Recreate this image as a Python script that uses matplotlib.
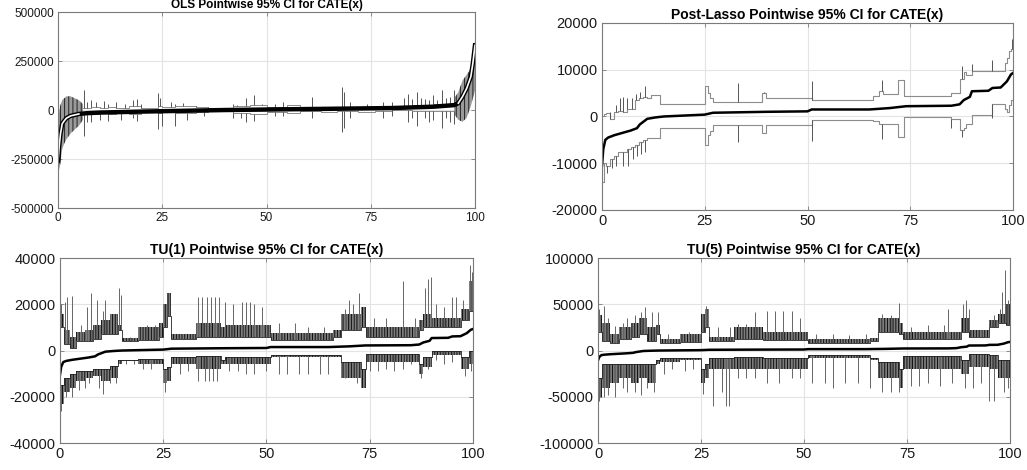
import numpy as np
import matplotlib
matplotlib.use("Agg")
import matplotlib.pyplot as plt

plt.rcParams['font.family'] = ['Liberation Sans', 'DejaVu Sans']
plt.rcParams['hatch.linewidth'] = 0.7

# ---------------- OLS panel ----------------
ols_c_x = [0, 0.3, 0.6, 1, 1.5, 2, 3, 5, 7, 10, 20, 40, 60, 80, 90, 95, 96, 97, 98, 99, 99.5, 100]
ols_c_y = [-260000, -180000, -120000, -70000, -55000, -42000, -30000, -20000, -16000, -13000,
           -8000, 0, 5000, 10000, 17000, 25000, 35000, 68000, 110000, 170000, 240000, 330000]
ols_lb_x = [0, 0.5, 1, 1.5, 2, 3, 4, 5, 6]
ols_lb_hi = [-50000, 20000, 50000, 60000, 70000, 70000, 60000, 50000, 30000]
ols_lb_lo = [-330000, -280000, -200000, -170000, -150000, -120000, -100000, -80000, -50000]
ols_rb_x = [95, 96, 97, 98, 99, 99.5, 100]
ols_rb_hi = [60000, 90000, 150000, 180000, 210000, 300000, 350000]
ols_rb_lo = [-20000, -50000, -60000, -40000, 20000, 60000, 100000]
ols_mid_x = [6, 8, 10, 12, 14, 17, 20, 24, 25, 28, 33, 36, 42, 46, 50, 55, 58, 63, 67, 72, 76, 80, 85, 90, 95]
ols_mid_up = [10000, 15000, 10000, 15000, 12000, 18000, 10000, 20000, 15000, 20000, 15000, 8000, 20000,
              25000, 15000, 25000, 15000, 10000, 15000, 10000, 15000, 20000, 25000, 30000, 30000]
ols_mid_lo = [-15000, -20000, -15000, -18000, -12000, -20000, -10000, -15000, -12000, -15000, -10000, -5000,
              -15000, -20000, -10000, -15000, -5000, -8000, -5000, -10000, -3000, 0, -5000, -5000, -5000]
ols_sp_up_x = [6.3, 7, 8, 9, 11, 12, 14, 16, 18, 19, 20, 24, 24.5, 27, 28, 30, 33, 36, 42, 43, 45, 47, 49,
               52, 54, 61, 68, 68.5, 70, 74, 78, 80, 83, 84, 85, 86, 87, 88, 89, 90, 91, 92, 93, 94, 95]
ols_sp_up_y = [100000, 40000, 50000, 40000, 45000, 30000, 40000, 30000, 50000, 55000, 30000, 85000, 60000,
               40000, 30000, 35000, 20000, 15000, 30000, 25000, 60000, 75000, 30000, 30000, 40000, 65000,
               120000, 90000, 40000, 30000, 40000, 40000, 60000, 80000, 55000, 90000, 60000, 55000, 50000,
               75000, 50000, 100000, 60000, 65000, 100000]
ols_sp_lo_x = [6.3, 7, 8, 10, 12, 15, 18, 19, 24, 25, 28, 31, 35, 42, 44, 45, 47, 52, 54, 61, 68, 68.5, 70,
               78, 80, 84, 85, 86, 88, 89, 90, 92, 93, 94, 95]
ols_sp_lo_y = [-130000, -60000, -60000, -50000, -55000, -50000, -40000, -55000, -95000, -80000, -80000,
               -50000, -30000, -40000, -40000, -60000, -55000, -30000, -30000, -40000, -110000, -90000,
               -40000, -40000, -30000, -60000, -40000, -80000, -40000, -60000, -50000, -90000, -40000,
               -60000, -70000]

# ---------------- Post-Lasso panel (center shared by TU panels) ----------------
pc_x = [0, 0.3, 0.8, 1.5, 3, 5, 7, 8.5, 9.2, 11, 13, 15, 20, 25, 27, 40, 50, 51, 65, 70, 74, 85, 87,
        88, 89.5, 90, 94, 95, 97, 98.5, 99.5, 100]
pc_y = [-10500, -7000, -5000, -4500, -4000, -3500, -3000, -2500, -1700, -500, -200, 0, 200, 400, 800,
        1000, 1100, 1500, 1500, 1800, 2200, 2300, 2600, 3500, 4200, 5400, 5500, 6100, 6200, 7500, 9000, 9300]
pl_x = [0, 0.5, 1, 2, 3, 4, 5, 6, 7, 8, 9, 10, 11, 12, 14, 25, 25.7, 26.3, 27, 39, 40, 51, 66, 67.5,
        68.3, 72, 73.5, 85, 87, 88, 88.5, 90, 95, 98, 98.5, 99, 99.5, 100]
pl_up = [0, 500, 800, -500, 1000, 1200, 1000, 1500, 1500, 3500, 4000, 4200, 4000, 4600, 2600, 6600,
         5000, 4000, 3200, 5000, 3900, 3500, 4300, 5500, 4800, 7800, 4300, 5000, 8000, 9500, 8800, 9700,
         9700, 11500, 12500, 14000, 14500, 14500]
pl_lo = [-14000, -10000, -10500, -9000, -8500, -7500, -7500, -7000, -6500, -6000, -5500, -5000, -4500,
         -4700, -2500, -6000, -4000, -3000, -1800, -3500, -1800, -800, -1000, -1500, -1500, -4300, -100,
         -600, -2800, -2500, -1500, 400, 2700, 1500, 1000, 2500, 3500, 3500]
pl_sp_up_x = [2, 3.5, 4.3, 5.2, 6, 7.2, 8.2, 9.3, 10.5, 33, 39.5, 51, 68, 87.5, 90, 95, 99.8]
pl_sp_up_y = [1000, 2500, 4000, 4200, 4000, 4000, 4800, 5200, 6500, 7200, 5200, 7500, 7800, 10800,
              11200, 12000, 16500]
pl_sp_lo_x = [1.2, 2.5, 3.5, 5, 6.2, 7.5, 8.5, 9.5, 10.5, 33, 51, 68, 73, 85, 87.5, 95]
pl_sp_lo_y = [-12000, -11000, -10500, -10500, -10500, -9000, -8500, -8000, -7500, -5500, -5200, -4800,
              -4300, -2500, -4300, -400]

# ---------------- TU(1) panel ----------------
tu1_x = [0, 1, 2.5, 4, 6, 8, 10, 12, 14, 15, 19, 24, 25, 26, 27, 33, 39, 40, 51, 66, 68, 73, 74, 87,
         88, 90, 97, 99, 100]
tu1_up_base = [10000, 3000, 1000, 4000, 4000, 5000, 7000, 7000, 9000, 4000, 4500, 6000, 10000, 15000,
               5000, 6000, 6000, 6000, 4500, 6000, 9000, 10000, 6000, 9000, 10000, 10000, 13000, 17000, 17000]
tu1_up_top = [16000, 9000, 6000, 8000, 9000, 11000, 13000, 16000, 11000, 5500, 10000, 12000, 20000,
              25000, 7000, 12000, 10000, 11000, 7500, 9000, 16000, 19000, 10000, 13000, 16000, 14000,
              18000, 30000, 30000]
tu1_lo_edge = [-15000, -12000, -10000, -9000, -9000, -8000, -8000, -6500, -4000, -4000, -3500, -3500,
               -8000, -7000, -3000, -2500, -4000, -3000, -2000, -2000, -5000, -8000, -1500, -6000, -3000,
               0, -3000, 0, 0]
tu1_lo_bot = [-23000, -18000, -16000, -13000, -12000, -11000, -13000, -12000, -6000, -4500, -6000,
              -6000, -14000, -13000, -6000, -8000, -6000, -6000, -3000, -3000, -12000, -16000, -5000,
              -10000, -7000, -2000, -8000, -6000, -6000]
tu1_sp_up_x = [0.3, 1.2, 1.8, 3, 5, 6.5, 7.5, 9, 10.5, 11, 13, 14.3, 14.7, 17, 21, 23, 33.5, 34.5, 35.5,
               36.5, 37.5, 38.5, 40, 42, 44, 45, 46, 47, 49, 53, 57, 60, 64, 69, 70, 71, 72.5, 76, 79,
               83, 86, 88.5, 89, 89.8, 91, 93, 95, 96, 97.5, 99.3, 99.7]
tu1_sp_up_y = [20000, 21000, 23000, 23500, 11000, 19000, 25000, 22000, 17000, 22000, 16000, 27000,
               24000, 6000, 11000, 11000, 23000, 23000, 23000, 23000, 23000, 23000, 21000, 20000, 21000,
               21000, 21000, 20000, 19000, 12000, 12000, 10000, 10000, 18000, 22000, 20000, 25000,
               14000, 14000, 30000, 14000, 27000, 31000, 32000, 20000, 19000, 23000, 23000, 22000,
               37000, 34000]
tu1_sp_lo_x = [0.2, 1.5, 3, 4.5, 6, 7, 9.5, 10.5, 12, 13.5, 16, 18, 20, 22, 25.5, 29, 31, 33.5, 35, 36,
               37, 38, 41, 43, 45, 47, 50, 53, 55, 58, 60, 63, 65, 69, 72, 75, 77, 79, 81, 83, 85, 87.5,
               89, 91, 93, 95, 98, 99.5]
tu1_sp_lo_y = [-26000, -20000, -20000, -17000, -16000, -14000, -16000, -19000, -14000, -14000, -6000,
               -6000, -8000, -8000, -18000, -10000, -9000, -13000, -13000, -13000, -13000, -13000,
               -9000, -9000, -10000, -10000, -9000, -10000, -10000, -10000, -10000, -10000, -10000,
               -12000, -14000, -9000, -9000, -8000, -9000, -8000, -6000, -12000, -8000, -4000, -6000,
               -5000, -11000, -9000]

# ---------------- TU(5) panel ----------------
tu5_x = [0, 1, 3, 5, 8, 10, 12, 14, 15, 20, 25, 26, 27, 33, 40, 51, 66, 68, 73, 74, 88, 90, 95, 97,
         99, 100]
tu5_up_base = [20000, 10000, 8000, 12000, 15000, 18000, 10000, 18000, 8000, 9000, 20000, 25000, 10000,
               13000, 11000, 8000, 10000, 20000, 18000, 12000, 20000, 15000, 25000, 30000, 28000, 28000]
tu5_up_top = [38000, 30000, 18000, 25000, 30000, 35000, 25000, 28000, 12000, 18000, 40000, 45000,
              15000, 25000, 20000, 12000, 14000, 35000, 30000, 20000, 35000, 22000, 33000, 40000,
              50000, 50000]
tu5_lo_edge = [-30000, -15000, -15000, -15000, -15000, -15000, -15000, -10000, -8000, -8000, -20000,
               -15000, -8000, -7000, -8000, -5000, -8000, -12000, -20000, -6000, -10000, -4000, -5000,
               -10000, -10000, -10000]
tu5_lo_bot = [-50000, -40000, -35000, -30000, -35000, -30000, -35000, -15000, -12000, -10000, -35000,
              -30000, -20000, -20000, -20000, -8000, -10000, -30000, -40000, -20000, -25000, -18000,
              -20000, -30000, -30000, -30000]
tu5_sp_up_x = [0.3, 1.5, 2.5, 4, 6, 7, 9, 10.5, 11.5, 13, 14.5, 17, 22, 26.3, 29, 32, 34, 36, 38, 41,
               43, 45, 47, 49, 53, 57, 61, 65, 69, 71, 73, 76, 80, 84, 85, 88.5, 89.3, 90, 93, 96,
               97.5, 98, 98.7, 99.5]
tu5_sp_up_y = [45000, 48000, 35000, 27000, 30000, 35000, 38000, 42000, 47000, 42000, 42000, 18000,
               20000, 48000, 25000, 25000, 29000, 29000, 42000, 43000, 43000, 43000, 43000, 35000,
               18000, 18000, 17000, 18000, 40000, 38000, 51000, 25000, 28000, 28000, 45000, 50000,
               55000, 45000, 22000, 38000, 45000, 63000, 87000, 55000]
tu5_sp_lo_x = [0.3, 1.5, 2.5, 4, 6, 7, 9, 10.5, 12, 13.5, 16, 18, 21, 23, 25.5, 28, 30, 31, 31.8, 34,
               36, 38, 41, 44, 47, 49, 52, 55, 57, 60, 63, 66, 69, 71, 73, 76, 78, 80, 83, 86, 89, 91,
               93, 95, 96, 98.5, 99.5]
tu5_sp_lo_y = [-55000, -50000, -48000, -50000, -40000, -45000, -45000, -48000, -40000, -45000, -25000,
               -20000, -22000, -20000, -47000, -60000, -45000, -60000, -60000, -30000, -30000, -30000,
               -35000, -35000, -30000, -30000, -35000, -35000, -40000, -35000, -35000, -40000, -45000,
               -45000, -45000, -38000, -38000, -35000, -38000, -35000, -40000, -40000, -35000, -55000,
               -55000, -45000, -40000]

BOUND = '#8c8c8c'


def step_at(xs, ys, q):
    xs = np.asarray(xs, float)
    idx = np.clip(np.searchsorted(xs, np.asarray(q, float), side='right') - 1, 0, len(ys) - 1)
    return np.asarray(ys, float)[idx]


def style(ax, yticks, title, fs_tick, fs_title):
    ax.set_xlim(0, 100)
    ax.set_ylim(yticks[0], yticks[-1])
    ax.set_xticks([0, 25, 50, 75, 100])
    ax.set_yticks(yticks)
    ax.set_yticklabels([str(v) for v in yticks])
    ax.grid(True, color='#e3e3e3', lw=0.8)
    ax.set_axisbelow(True)
    ax.tick_params(direction='in', length=3, width=0.6, color='#7a7a7a',
                   labelsize=fs_tick, pad=3, labelcolor='#1a1a1a', top=True, right=True)
    for s in ax.spines.values():
        s.set_color('#7a7a7a')
        s.set_linewidth(0.8)
    ax.set_title(title, fontsize=fs_title, fontweight='bold', pad=3)


def band(ax, xs, lo, hi):
    ax.fill_between(xs, lo, hi, step='post', facecolor='#7d7d7d', edgecolor='#111111',
                    hatch='||||||', lw=0)


fig = plt.figure(figsize=(10.27, 4.70), dpi=100)
ax1 = fig.add_axes([0.0565, 0.5574, 0.406, 0.417])
ax2 = fig.add_axes([0.5862, 0.5532, 0.4002, 0.3979])
ax3 = fig.add_axes([0.0584, 0.0574, 0.4021, 0.3936])
ax4 = fig.add_axes([0.5823, 0.0574, 0.4012, 0.3936])

# OLS
ax1.step(ols_mid_x, ols_mid_up, where='post', color=BOUND, lw=0.7)
ax1.step(ols_mid_x, ols_mid_lo, where='post', color=BOUND, lw=0.7)
ax1.vlines(ols_sp_up_x, step_at(ols_mid_x, ols_mid_up, ols_sp_up_x), ols_sp_up_y, color='#555555', lw=0.7)
ax1.vlines(ols_sp_lo_x, step_at(ols_mid_x, ols_mid_lo, ols_sp_lo_x), ols_sp_lo_y, color='#555555', lw=0.7)
ax1.fill_between(ols_lb_x, ols_lb_lo, ols_lb_hi, facecolor='#9a9a9a', edgecolor='#222222',
                 hatch='||||', lw=0)
ax1.fill_between(ols_rb_x, ols_rb_lo, ols_rb_hi, facecolor='#9a9a9a', edgecolor='#222222',
                 hatch='||||', lw=0)
ax1.plot(ols_c_x, ols_c_y, color='black', lw=3.2)
cx = np.asarray(ols_c_x, float)
cy = np.asarray(ols_c_y, float)
ax1.plot(np.where(cx <= 5, cx, np.nan), cy, color='white', lw=1.2)
ax1.plot(np.where(cx >= 96, cx, np.nan), cy, color='white', lw=1.2)
style(ax1, [-500000, -250000, 0, 250000, 500000], 'OLS Pointwise 95% CI for CATE(x)', 8.5, 8.5)

# Post-Lasso
ax2.step(pl_x, pl_up, where='post', color=BOUND, lw=0.8)
ax2.step(pl_x, pl_lo, where='post', color=BOUND, lw=0.8)
ax2.vlines(pl_sp_up_x, step_at(pl_x, pl_up, pl_sp_up_x), pl_sp_up_y, color='#555555', lw=0.7)
ax2.vlines(pl_sp_lo_x, step_at(pl_x, pl_lo, pl_sp_lo_x), pl_sp_lo_y, color='#555555', lw=0.7)
ax2.plot(pc_x, pc_y, color='black', lw=1.8)
style(ax2, [-20000, -10000, 0, 10000, 20000], 'Post-Lasso Pointwise 95% CI for CATE(x)', 10.5, 10)


def tu_panel(ax, xs, ub, ut, le, lb, sux, suy, slx, sly):
    ax.vlines(sux, step_at(xs, ub, sux), suy, color='#666666', lw=0.7)
    ax.vlines(slx, step_at(xs, le, slx), sly, color='#666666', lw=0.7)
    band(ax, xs, ub, ut)
    band(ax, xs, lb, le)
    ax.step(xs, ub, where='post', color='#222222', lw=0.6)
    ax.step(xs, le, where='post', color='#222222', lw=0.6)
    ax.plot(pc_x, pc_y, color='black', lw=1.8)


tu_panel(ax3, tu1_x, tu1_up_base, tu1_up_top, tu1_lo_edge, tu1_lo_bot,
         tu1_sp_up_x, tu1_sp_up_y, tu1_sp_lo_x, tu1_sp_lo_y)
style(ax3, [-40000, -20000, 0, 20000, 40000], 'TU(1) Pointwise 95% CI for CATE(x)', 10.5, 10)

tu_panel(ax4, tu5_x, tu5_up_base, tu5_up_top, tu5_lo_edge, tu5_lo_bot,
         tu5_sp_up_x, tu5_sp_up_y, tu5_sp_lo_x, tu5_sp_lo_y)
style(ax4, [-100000, -50000, 0, 50000, 100000], 'TU(5) Pointwise 95% CI for CATE(x)', 10.5, 10)

fig.savefig('out.png', dpi=100)
